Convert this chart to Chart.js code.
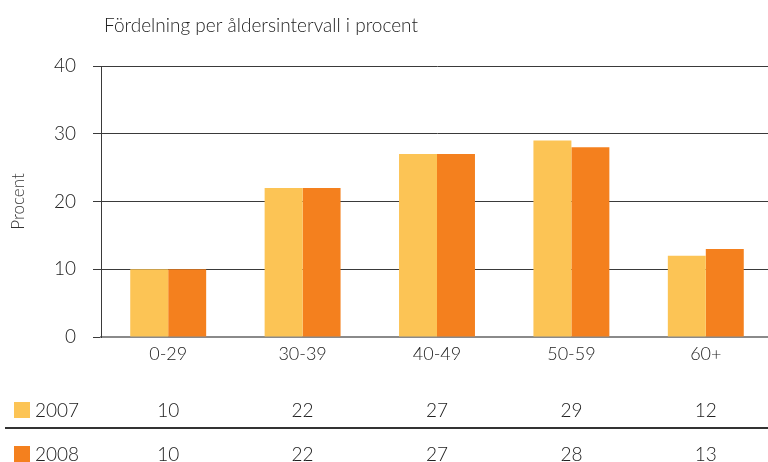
<!DOCTYPE html>
<html>
<head>
<meta charset="utf-8">
<script src="https://cdn.jsdelivr.net/npm/chart.js@4/dist/chart.umd.min.js"></script>
<style>
  html, body { margin: 0; padding: 0; background: #fff; overflow: hidden; }
  #wrap { width: 776px; height: 462px; }
</style>
</head>
<body>
<div id="wrap"><canvas id="c" width="776" height="462"></canvas></div>
<script>
const categories = ['0-29', '30-39', '40-49', '50-59', '60+'];
const seriesNames = ['2007', '2008'];
const values2007 = [10, 22, 27, 29, 12];
const values2008 = [10, 22, 27, 28, 13];
const yTicks = [0, 10, 20, 30, 40];

const colors = ['#FCC455', '#F4801E'];
const FONT = 'Lato, "Open Sans", sans-serif';

// Title, legend swatches and the value table beneath the axis
const extras = {
  id: 'extras',
  afterDraw(chart) {
    const ctx = chart.ctx;
    const x = chart.scales.x;
    ctx.save();
    ctx.fillStyle = '#222';
    ctx.font = '300 19px ' + FONT;
    ctx.textAlign = 'left';
    ctx.textBaseline = 'middle';
    ctx.fillText('Fördelning per åldersintervall i procent', 104, 26);

    const rows = [values2007, values2008];
    const rowY = [410, 454];
    rows.forEach((vals, r) => {
      ctx.fillStyle = colors[r];
      ctx.fillRect(14, rowY[r] - 8, 16, 16);
      ctx.fillStyle = '#222';
      ctx.font = '300 19px ' + FONT;
      ctx.textAlign = 'left';
      ctx.fillText(seriesNames[r], 35, rowY[r] + 1);
      ctx.textAlign = 'center';
      vals.forEach((v, i) => {
        ctx.fillText(String(v), x.getPixelForValue(i), rowY[r] + 1);
      });
    });
    ctx.strokeStyle = '#333';
    ctx.lineWidth = 2;
    ctx.beginPath();
    ctx.moveTo(5, 428);
    ctx.lineTo(776, 428);
    ctx.stroke();
    ctx.restore();
  }
};

new Chart(document.getElementById('c'), {
  type: 'bar',
  data: {
    labels: categories,
    datasets: [
      { label: seriesNames[0], data: values2007, backgroundColor: colors[0], borderWidth: 0 },
      { label: seriesNames[1], data: values2008, backgroundColor: colors[1], borderWidth: 0 }
    ]
  },
  options: {
    responsive: false,
    animation: false,
    devicePixelRatio: 1,
    layout: { padding: { top: 66, right: 3, bottom: 0, left: 0 } },
    categoryPercentage: 0.565,
    barPercentage: 1,
    plugins: { legend: { display: false }, title: { display: false }, tooltip: { enabled: false } },
    scales: {
      x: {
        afterFit(s) { s.height = 125; },
        grid: { display: false, drawTicks: false },
        border: { display: true, color: '#8a8a8a', width: 2 },
        ticks: { color: '#222', font: { family: FONT, size: 18, weight: 300 }, padding: 6 }
      },
      y: {
        min: 0, max: 40,
        afterFit(s) { s.width = 101; },
        afterBuildTicks(s) { s.ticks = yTicks.map(v => ({ value: v })); },
        grid: { color: '#3a3a3a', lineWidth: 1, drawTicks: true, tickLength: 8, tickColor: '#3a3a3a' },
        border: { display: true, color: '#3a3a3a', width: 1 },
        ticks: { color: '#222', font: { family: FONT, size: 19, weight: 300 }, padding: 17 },
        title: { display: true, text: 'Procent', color: '#333', font: { family: FONT, size: 17, weight: 300 }, padding: { top: 8, bottom: 4 } }
      }
    }
  },
  plugins: [extras]
});
</script>
</body>
</html>
